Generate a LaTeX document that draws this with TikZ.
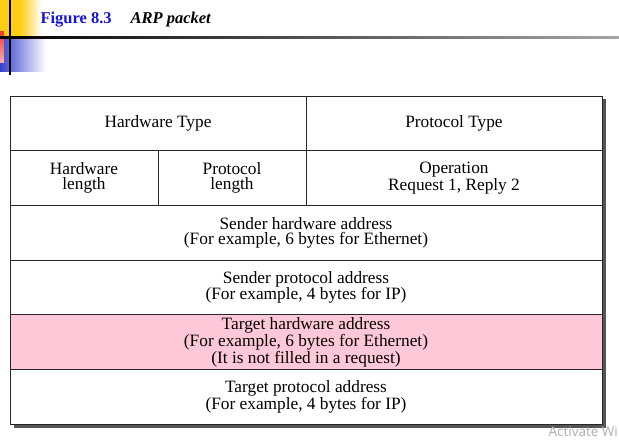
\documentclass[tikz,border=0pt]{standalone}
\usepackage{fontspec}
\setmainfont{Liberation Serif}
\newfontfamily\winfont{Open Sans}
\usepackage{xcolor}
\usetikzlibrary{positioning}
\pgfdeclarelayer{bg}
\pgfsetlayers{bg,main}
\definecolor{figblue}{RGB}{20,20,215}
\definecolor{rowpink}{RGB}{255,200,216}
\definecolor{decoyellow}{RGB}{255,205,20}
\definecolor{decoblue}{RGB}{55,65,205}
\definecolor{decored}{RGB}{240,60,50}
\definecolor{shadowgray}{RGB}{85,85,85}

\begin{document}
\begin{tikzpicture}[x=1pt, y=1pt,
	cell/.style={draw=black!85, line width=0.9pt, fill=white, inner sep=0pt, outer sep=0pt,
		align=center, font=\fontsize{17.3}{15.5}\selectfont, minimum height=54.67pt},
	wide/.style={cell, minimum width=296pt},
	half/.style={cell, minimum width=148pt},
	full/.style={cell, minimum width=592pt}]
	\useasboundingbox (0,0) rectangle (619,441);
	% cabecera %
	\fill[decoyellow] (0,441) rectangle (20,403);
	\shade[left color=decoyellow, right color=white] (20,441) rectangle (42,403);
	\shade[left color=decoblue, right color=white] (0,403) rectangle (46,369);
	\shade[top color=decored, bottom color=decored!40] (0,409) rectangle (4,378);
	\shade[left color=black, right color=black!35] (0,404) rectangle (619,402);
	\draw[line width=2pt] (10,441) -- (10,366);
	\node[anchor=base west, text=figblue, font=\fontsize{16.5}{18}\selectfont\bfseries] (fig) at (37,417) {Figure 8.3};
	\node[anchor=base west, font=\fontsize{16.5}{18}\selectfont\bfseries\itshape] (title) at (127,417) {ARP packet};
	% campos %
	\node[wide, anchor=north west] (hwtype) at (10,345) {Hardware Type};
	\node[wide, right=0pt of hwtype] (prtype) {Protocol Type};
	\node[half, below=0pt of hwtype.south west, anchor=north west] (hwlen) {Hardware\\length};
	\node[half, right=0pt of hwlen] (prlen) {Protocol\\length};
	\node[wide, right=0pt of prlen] (oper) {Operation\\Request 1, Reply 2};
	\node[full, below=0pt of hwlen.south west, anchor=north west] (shaddr) {Sender hardware address\\(For example, 6 bytes for Ethernet)};
	\node[full, below=0pt of shaddr] (spaddr) {Sender protocol address\\(For example, 4 bytes for IP)};
	\node[full, fill=rowpink, below=0pt of spaddr] (thaddr) {Target hardware address\\(For example, 6 bytes for Ethernet)\\(It is not filled in a request)};
	\node[full, below=0pt of thaddr] (tpaddr) {Target protocol address\\(For example, 4 bytes for IP)};
	% sombra %
	\begin{pgfonlayer}{bg}
		\fill[shadowgray] ([shift={(3.5,-3.5)}]hwtype.north west) rectangle ([shift={(3.5,-3.5)}]tpaddr.south east);
	\end{pgfonlayer}
	\node[anchor=base east, text=black!32, font=\winfont\fontsize{13.5}{15}\selectfont, inner sep=0pt] (wm) at (618,4) {Activate Wi};
\end{tikzpicture}
\end{document}
